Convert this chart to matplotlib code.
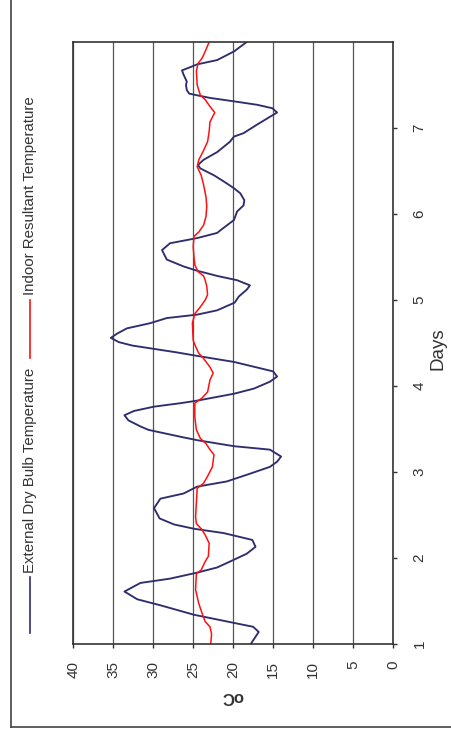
import matplotlib
matplotlib.use("Agg")
import matplotlib.pyplot as plt
from matplotlib.lines import Line2D

plt.rcParams['font.family'] = ['Liberation Sans', 'DejaVu Sans']

# 数据：天数 / 温度 (°C)
ext_days = [1.00, 1.14, 1.20, 1.34, 1.45, 1.52, 1.61, 1.71, 1.76, 1.83, 1.89, 1.98,
            2.05, 2.13, 2.21, 2.29, 2.34, 2.39, 2.46, 2.58, 2.69, 2.75, 2.83, 2.89, 2.98,
            3.06, 3.12, 3.18, 3.26, 3.30, 3.37, 3.41, 3.49, 3.53, 3.60, 3.66, 3.71, 3.76,
            3.80, 3.83, 3.91, 3.97, 4.05, 4.11, 4.17, 4.28, 4.35, 4.39, 4.47, 4.51, 4.56,
            4.61, 4.67, 4.73, 4.79, 4.83, 4.88, 4.97, 5.04, 5.12, 5.17, 5.23, 5.28, 5.34,
            5.39, 5.47, 5.58, 5.66, 5.72, 5.78, 5.81, 5.93, 6.03, 6.10, 6.16, 6.24, 6.30,
            6.38, 6.45, 6.53, 6.57, 6.63, 6.72, 6.84, 6.90, 6.94, 7.04, 7.13, 7.18, 7.23,
            7.27, 7.31, 7.35, 7.38, 7.40, 7.44, 7.50, 7.54, 7.62, 7.67, 7.71, 7.74, 7.79,
            7.89, 8.00]
ext_temp = [17.8, 16.8, 17.5, 24.9, 29.1, 32.0, 33.6, 31.6, 27.9, 24.5, 22.0, 19.9,
            18.3, 17.2, 17.6, 21.2, 24.9, 27.4, 29.2, 29.9, 29.1, 26.2, 24.5, 20.8, 17.9,
            15.4, 14.5, 14.0, 15.4, 19.9, 24.5, 26.6, 30.6, 31.6, 33.1, 33.6, 32.4, 29.9,
            26.6, 24.5, 19.9, 17.4, 15.4, 14.5, 15.0, 19.9, 24.5, 27.0, 32.6, 34.3, 35.3,
            34.5, 33.3, 30.4, 28.3, 24.5, 22.0, 19.8, 19.3, 18.3, 17.9, 19.5, 22.0, 24.5,
            26.2, 28.3, 28.9, 27.9, 24.5, 22.0, 21.6, 19.9, 19.5, 18.7, 18.6, 19.1, 19.9,
            21.2, 22.4, 24.1, 24.4, 23.7, 22.0, 20.4, 19.9, 18.7, 17.0, 15.4, 14.5, 15.1,
            17.0, 19.9, 22.9, 24.5, 25.5, 25.8, 25.9, 25.8, 26.2, 26.4, 25.3, 24.5, 22.0,
            19.9, 18.3]

ind_days = [1.00, 1.12, 1.20, 1.26, 1.36, 1.47, 1.63, 1.82, 1.86, 1.96, 2.02, 2.17,
            2.25, 2.33, 2.40, 2.48, 2.81, 2.87, 2.95, 3.06, 3.20, 3.26, 3.33, 3.39, 3.49,
            3.64, 3.80, 3.86, 3.93, 4.07, 4.15, 4.22, 4.32, 4.38, 4.46, 4.53, 4.73, 4.84,
            4.92, 5.00, 5.06, 5.16, 5.23, 5.28, 5.33, 5.41, 5.50, 5.62, 5.74, 5.79, 5.87,
            5.97, 6.09, 6.20, 6.34, 6.45, 6.55, 6.63, 6.72, 6.84, 6.96, 7.07, 7.18, 7.25,
            7.33, 7.38, 7.50, 7.66, 7.75, 7.81, 7.89, 8.00]
ind_temp = [22.8, 22.7, 22.9, 23.5, 23.9, 24.3, 24.7, 24.6, 24.0, 23.5, 23.1, 23.0,
            23.4, 23.9, 24.6, 24.7, 24.5, 23.7, 23.2, 22.6, 22.4, 22.9, 23.4, 24.1, 24.6,
            24.8, 24.8, 23.9, 23.2, 22.9, 22.5, 22.9, 23.7, 24.3, 24.7, 25.0, 25.1, 24.8,
            24.1, 23.5, 23.2, 23.3, 23.5, 23.7, 24.4, 24.8, 24.9, 25.0, 24.9, 24.3, 23.7,
            23.4, 23.3, 23.4, 23.7, 24.0, 24.5, 24.3, 23.8, 23.2, 23.0, 22.9, 22.3, 22.9,
            23.5, 24.1, 24.5, 24.6, 24.4, 23.9, 23.5, 23.0]

temp_ticks = [0, 5, 10, 15, 20, 25, 30, 35, 40]
day_ticks = [1, 2, 3, 4, 5, 6, 7]

ext_color = '#2E2E6E'
ind_color = '#FF1010'

W, H = 451, 745
fig = plt.figure(figsize=(W / 100, H / 100), dpi=100)


def fx(px):
    return px / W


def fy(py):
    return (H - py) / H


# 图是整体旋转90度的：横轴为温度(反向)，纵轴为天数
ax = fig.add_axes([fx(73.3), fy(644), fx(393) - fx(73.3), fy(42) - fy(644)])
ax.plot(ext_temp, ext_days, color=ext_color, lw=1.35)
ax.plot(ind_temp, ind_days, color=ind_color, lw=1.1)

ax.set_xlim(40, 0)
ax.set_ylim(1, 8)
ax.set_xticks(temp_ticks)
ax.set_xticklabels([str(t) for t in temp_ticks], rotation=90, fontsize=11)
ax.set_yticks(day_ticks)
ax.set_yticklabels([str(d) for d in day_ticks], rotation=90, fontsize=11, va='center')
ax.yaxis.tick_right()
ax.tick_params(axis='x', direction='out', length=3, width=1, pad=9, colors='#333333')
ax.tick_params(axis='y', direction='out', length=3, width=1, pad=11, colors='#333333')
for lab in ax.get_xticklabels() + ax.get_yticklabels():
    lab.set_color('#333333')

ax.xaxis.grid(True, color='#555555', lw=0.9)
ax.set_axisbelow(True)
for sp in ax.spines.values():
    sp.set_color('#333333')
    sp.set_linewidth(1.2)

fig.text(fx(232), fy(696), 'oC', rotation=180, fontsize=12, fontweight='bold',
         color='#333333', ha='center', va='center')
fig.text(fx(438), fy(349), 'Days', rotation=90, fontsize=13.5, color='#333333',
         ha='center', va='center')

# 图例（竖排）
fig.add_artist(Line2D([fx(30), fx(30)], [fy(633), fy(577)], color=ext_color, lw=1.2))
fig.text(fx(30), fy(573), 'External Dry Bulb Temperature', rotation=90, fontsize=10.8,
         color='#333333', ha='center', va='bottom')
fig.add_artist(Line2D([fx(30), fx(30)], [fy(358), fy(300)], color=ind_color, lw=1.2))
fig.text(fx(30), fy(295), 'Indoor Resultant Temperature', rotation=90, fontsize=10.8,
         color='#333333', ha='center', va='bottom')

# 外框（只露出左边和下边）
fig.add_artist(Line2D([fx(11), fx(11)], [fy(0), fy(727)], color='#444444', lw=1.2))
fig.add_artist(Line2D([fx(11), fx(451)], [fy(727), fy(727)], color='#444444', lw=1.2))

fig.savefig('out.png', dpi=100)
